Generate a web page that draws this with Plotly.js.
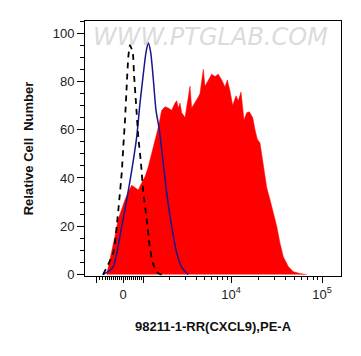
<!DOCTYPE html>
<html>
<head>
<meta charset="utf-8">
<script src="https://cdn.plot.ly/plotly-3.0.1.min.js"></script>
<style>html,body{margin:0;padding:0;background:#fff;}#chart{width:361px;height:356px;}</style>
</head>
<body>
<div id="chart"></div>
<script>
// x values are display channels of the biexponential axis (0 = "0", 108 = 10^4, 199 = 10^5)
var sampleX = [-16.3,-11.3,-8,-4.7,-1.3,2,6.3,8.7,12,15.3,18.7,22,25.3,28.7,32,35.3,38.7,42,45.3,48.7,52,53.7,55.3,57,58.7,62,65.3,67,68.7,72,75.3,77,80.3,82,85.3,88.7,92,95.3,98.7,102,104.3,107,109.7,113,115.3,118,121,123.7,126.3,129.7,132,134.3,137,138.7,141.3,143.7,147,150.3,153.7,157,160.3,165.3,170.3,177,183.7];
var sampleY = [0,9,16,23,27,31,35,37,36,35,38,40.5,44.6,50,56,61,68,69.5,69,68,71,72,69,71,67,65,73.5,78,69,71,73.5,75,85,78,80.5,83,82,83,80.6,77.7,80.6,76,70,74,72,75.6,64,67,67.4,65,60,56,54.5,50,43,36,31,25.6,20,13,7.4,3.3,1.2,0.4,0];
var isoX = [-20,-10,-3,3.7,8.7,13.7,17,20.3,23,25.3,27.7,30.3,33,36.3,40.3,44.3,48.7,53.7,58.7,65.3];
var isoY = [0,3,16,31,43,57,71,83,92,96,92,81,68,60,46,32,20,9,3,0];
var blankX = [-20,-9.7,-6.3,-3.7,-1.3,0.3,2,3.7,5.3,7,9.7,11,13,15.3,18,20.3,23.7,26.3,29.7,33.7,38.7];
var blankY = [0,9,20,31,42,53,64,78,90,95,92,83,71,57,46,34,23,13,5,1,0];
var xTickVals = [0,108,199];
var xTickText = ["0","10<sup>4</sup>","10<sup>5</sup>"];
var xUnlabeledMajor = [-27,20];
var xMinorVals = [-24,-21,-18,-16,-14,-12,-10,-8,-6,-4,-2,2,4,6,8,10,12,14,16,18,46.5,62,73,81.5,88.5,94,99.5,104,135.4,151.4,162.8,171.6,178.8,184.9,190.2,194.8];
var xRange = [-38, 218];

var traces = [
  {x: sampleX, y: sampleY, type: 'scatter', mode: 'lines', fill: 'tozeroy',
   fillcolor: '#ff0000', line: {color: '#ff0000', width: 0.5, shape: 'linear'}, hoverinfo: 'skip'},
  {x: isoX, y: isoY, type: 'scatter', mode: 'lines',
   line: {color: '#16168f', width: 1.5, shape: 'spline', smoothing: 0.6}, hoverinfo: 'skip'},
  {x: blankX, y: blankY, type: 'scatter', mode: 'lines',
   line: {color: '#000000', width: 1.8, dash: '6px,5px', shape: 'spline', smoothing: 0.6}, hoverinfo: 'skip'},
  {x: [xRange[0]], y: [-10], xaxis: 'x2', type: 'scatter', mode: 'markers', marker: {opacity: 0}, hoverinfo: 'skip'}
];

var layout = {
  width: 361, height: 356,
  margin: {l: 85, r: 20, t: 21, b: 80},
  paper_bgcolor: '#ffffff', plot_bgcolor: '#ffffff',
  showlegend: false,
  font: {family: 'Liberation Sans, Arial, sans-serif', color: '#222', size: 13},
  xaxis: {
    range: xRange, showgrid: false, zeroline: false,
    showline: true, linecolor: '#000', linewidth: 1, mirror: true,
    ticks: 'outside', ticklen: 6, tickwidth: 1, tickcolor: '#000',
    tickmode: 'array', tickvals: xTickVals, ticktext: xTickText,
    tickfont: {size: 13, color: '#222'},
    minor: {tickmode: 'array', tickvals: xMinorVals, ticks: 'outside', ticklen: 3, tickcolor: '#000', tickwidth: 1, showgrid: false},
    title: {text: '<b>98211-1-RR(CXCL9),PE-A</b>', font: {size: 13, color: '#111'}, standoff: 21}
  },
  xaxis2: {
    overlaying: 'x', anchor: 'y', side: 'bottom', range: xRange,
    showgrid: false, zeroline: false, showline: false, showticklabels: false,
    ticks: 'outside', ticklen: 6, tickwidth: 1, tickcolor: '#000',
    tickmode: 'array', tickvals: xUnlabeledMajor
  },
  yaxis: {
    range: [-0.6, 105], showgrid: false, zeroline: false,
    showline: true, linecolor: '#000', linewidth: 1, mirror: true,
    ticks: 'outside', ticklen: 7, tickwidth: 1, tickcolor: '#000',
    tickmode: 'linear', tick0: 0, dtick: 20,
    tickfont: {size: 13, color: '#222'},
    minor: {tickmode: 'linear', tick0: 0, dtick: 5, ticks: 'outside', ticklen: 4, tickcolor: '#000', tickwidth: 1, showgrid: false},
    title: {text: '<b>Relative Cell  Number</b>', font: {size: 13, color: '#111'}, standoff: 16}
  },
  annotations: [{
    text: 'WWW.PTGLAB.COM', xref: 'paper', yref: 'paper', x: 0.49, y: 1.0,
    xanchor: 'center', yanchor: 'top', showarrow: false,
    font: {family: 'DejaVu Sans, sans-serif', size: 24, color: 'rgba(210,210,210,0.8)', style: 'italic'}
  }]
};

Plotly.newPlot('chart', traces, layout, {displayModeBar: false, staticPlot: true});
</script>
</body>
</html>
